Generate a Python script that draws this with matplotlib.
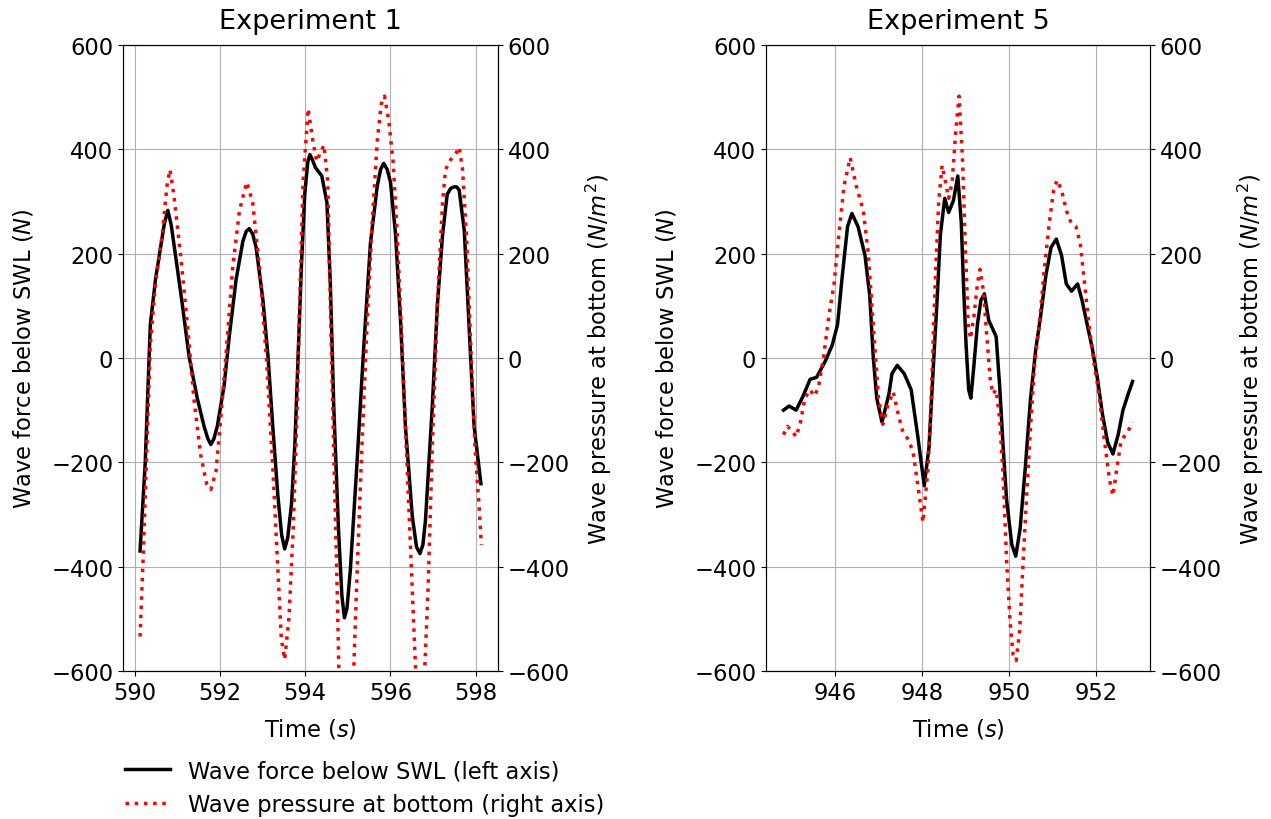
import matplotlib.pyplot as plt

plt.rcParams['font.size'] = 16.3

# Experiment 1 - wave force below SWL (left axis)
t1_force = [590.13, 590.25, 590.37, 590.49, 590.61, 590.70, 590.78, 590.86, 590.96, 591.12,
            591.28, 591.47, 591.63, 591.72, 591.79, 591.86, 591.94, 592.10, 592.22, 592.38,
            592.54, 592.62, 592.69, 592.77, 592.85, 593.01, 593.13, 593.24, 593.36, 593.45,
            593.52, 593.59, 593.68, 593.76, 593.83, 593.91, 593.99, 594.06, 594.11, 594.17,
            594.24, 594.39, 594.51, 594.59, 594.67, 594.78, 594.86, 594.92, 594.98, 595.06,
            595.22, 595.37, 595.53, 595.69, 595.77, 595.84, 595.92, 596.00, 596.12, 596.24,
            596.35, 596.51, 596.61, 596.69, 596.76, 596.82, 596.98, 597.10, 597.22, 597.33,
            597.41, 597.49, 597.55, 597.61, 597.73, 597.84, 597.96, 598.12]
force1 = [-370, -202, 64, 150, 212, 258, 283, 255, 197, 103,
          2, -77, -131, -155, -166, -155, -131, -53, 41, 150,
          224, 243, 248, 238, 212, 111, 2, -131, -264, -340,
          -366, -345, -280, -162, -6, 173, 314, 375, 390, 380,
          365, 349, 298, 142, -92, -327, -455, -498, -480, -405,
          -194, 17, 220, 330, 362, 373, 362, 337, 236, 64,
          -131, -303, -362, -375, -358, -311, -92, 103, 236, 314,
          325, 328, 328, 322, 244, 64, -131, -241]

# Experiment 1 - wave pressure at bottom (right axis)
t1_press = [590.13, 590.21, 590.29, 590.37, 590.49, 590.65, 590.76, 590.83, 590.92, 591.08,
            591.24, 591.39, 591.55, 591.69, 591.79, 591.91, 592.02, 592.14, 592.30, 592.46,
            592.63, 592.77, 592.93, 593.09, 593.24, 593.36, 593.44, 593.52, 593.62, 593.72,
            593.80, 593.87, 593.95, 594.07, 594.18, 594.27, 594.35, 594.44, 594.53, 594.60,
            594.68, 594.75, 594.80, 594.96, 595.12, 595.22, 595.33, 595.45, 595.57, 595.69,
            595.78, 595.86, 595.96, 596.06, 596.16, 596.27, 596.39, 596.51, 596.59, 596.70,
            596.80, 596.88, 596.98, 597.10, 597.22, 597.29, 597.41, 597.53, 597.61, 597.69,
            597.79, 597.88, 597.98, 598.08, 598.13]
press1 = [-534, -366, -170, 25, 142, 236, 330, 361, 314, 197,
          64, -77, -186, -241, -252, -217, -116, 2, 173, 283,
          337, 298, 173, 2, -209, -405, -538, -578, -498, -327,
          -131, 103, 337, 478, 416, 377, 392, 408, 337, 64,
          -209, -444, -640, -720, -640, -405, -170, 64, 259, 416,
          486, 502, 455, 377, 236, 25, -209, -444, -600, -650,
          -600, -444, -170, 103, 298, 361, 380, 392, 404, 361,
          220, 25, -170, -288, -358]

# Experiment 5 - wave force below SWL (left axis)
t5_force = [944.82, 944.95, 945.11, 945.27, 945.43, 945.58, 945.78, 945.94, 946.06, 946.17,
            946.29, 946.39, 946.53, 946.69, 946.80, 946.88, 946.96, 947.08, 947.24, 947.31,
            947.43, 947.59, 947.75, 947.91, 948.05, 948.16, 948.26, 948.34, 948.42, 948.52,
            948.61, 948.72, 948.82, 948.90, 948.95, 949.01, 949.07, 949.12, 949.19, 949.27,
            949.35, 949.43, 949.53, 949.62, 949.70, 949.78, 949.86, 949.94, 950.06, 950.15,
            950.25, 950.37, 950.49, 950.61, 950.72, 950.84, 950.96, 951.08, 951.20, 951.31,
            951.43, 951.57, 951.67, 951.79, 951.91, 952.02, 952.14, 952.26, 952.38, 952.50,
            952.61, 952.73, 952.83]
force5 = [-100, -92, -100, -73, -41, -37, -6, 25, 64, 158,
          252, 277, 252, 197, 119, 2, -77, -123, -69, -30,
          -14, -30, -61, -155, -245, -170, -14, 103, 236, 306,
          279, 302, 349, 259, 142, 25, -61, -77, -14, 64,
          111, 123, 72, 56, 41, -53, -170, -272, -358, -380,
          -327, -209, -77, 17, 80, 158, 212, 228, 197, 142,
          128, 142, 111, 64, 17, -37, -108, -162, -184, -147,
          -100, -69, -45]

# Experiment 5 - wave pressure at bottom (right axis)
t5_press = [944.82, 944.91, 945.01, 945.11, 945.21, 945.31, 945.43, 945.53, 945.62, 945.74,
            945.86, 945.98, 946.09, 946.21, 946.35, 946.49, 946.65, 946.76, 946.88, 947.00,
            947.10, 947.21, 947.34, 947.43, 947.55, 947.67, 947.79, 947.91, 948.02, 948.14,
            948.22, 948.30, 948.38, 948.46, 948.54, 948.61, 948.69, 948.77, 948.85, 948.93,
            948.99, 949.06, 949.11, 949.19, 949.27, 949.33, 949.41, 949.48, 949.56, 949.62,
            949.70, 949.78, 949.86, 949.94, 950.02, 950.09, 950.16, 950.24, 950.31, 950.41,
            950.49, 950.58, 950.69, 950.80, 950.92, 951.02, 951.10, 951.20, 951.31, 951.42,
            951.53, 951.63, 951.73, 951.83, 951.94, 952.06, 952.18, 952.30, 952.38, 952.46,
            952.56, 952.66, 952.76, 952.83]
press5 = [-147, -131, -139, -151, -123, -77, -61, -73, -57, 2,
          80, 142, 236, 330, 384, 330, 283, 205, 64, -77,
          -127, -92, -65, -100, -139, -155, -178, -248, -315, -209,
          -53, 142, 298, 369, 337, 306, 337, 431, 502, 377,
          220, 64, 37, 80, 142, 170, 127, 48, -37, -69,
          -61, -116, -225, -389, -506, -569, -580, -522, -405, -248,
          -131, -14, 64, 166, 259, 322, 341, 322, 283, 259,
          252, 220, 142, 64, -6, -69, -155, -233, -264, -217,
          -162, -147, -135, -123]

yticks = [-600, -400, -200, 0, 200, 400, 600]

fig = plt.figure(figsize=(12.71, 8.2), dpi=100)
ax1 = fig.add_axes([0.0968, 0.1805, 0.2950, 0.7634])
ax5 = fig.add_axes([0.6027, 0.1805, 0.3021, 0.7634])

panels = [(ax1, t1_force, force1, t1_press, press1, "Experiment 1", [590, 592, 594, 596, 598]),
          (ax5, t5_force, force5, t5_press, press5, "Experiment 5", [946, 948, 950, 952])]

for ax, tf, f, tp, p, title, xt in panels:
    lf, = ax.plot(tf, f, color='black', lw=2.5, label="Wave force below SWL (left axis)")
    ax.set_ylim(-600, 600)
    ax.set_yticks(yticks)
    ax.set_xticks(xt)
    ax.set_xlim(min(tf) - 0.05 * (max(tf) - min(tf)), max(tf) + 0.05 * (max(tf) - min(tf)))
    ax.grid(True)
    ax.set_xlabel("Time ($s$)", labelpad=9)
    ax.set_ylabel("Wave force below SWL ($N$)", labelpad=11)
    ax.set_title(title, pad=12)
    axr = ax.twinx()
    lp, = axr.plot(tp, p, color='red', ls=':', lw=2.5, label="Wave pressure at bottom (right axis)")
    axr.set_ylim(-600, 600)
    axr.set_yticks(yticks)
    axr.set_ylabel("Wave pressure at bottom ($N/m^2$)", labelpad=10)

ax1.legend(handles=[lf, lp], loc='upper left', bbox_to_anchor=(0.082, 0.098),
           bbox_transform=fig.transFigure, frameon=False)

plt.savefig("out.png", dpi=100)
